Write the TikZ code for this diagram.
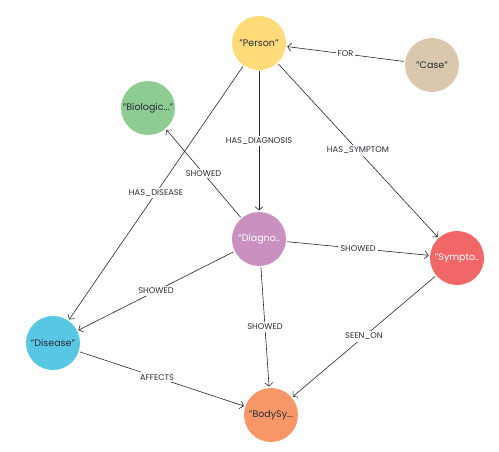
\documentclass[tikz,border=0pt]{standalone}
\usepackage{fontspec}
\setmainfont{Poppins}
\usetikzlibrary{arrows.meta, positioning}
\definecolor{personcol}{HTML}{FFDB7A}
\definecolor{casecol}{HTML}{D9C8AE}
\definecolor{biocol}{HTML}{8DCC93}
\definecolor{diagcol}{HTML}{C990C0}
\definecolor{symcol}{HTML}{F16667}
\definecolor{discol}{HTML}{57C7E3}
\definecolor{bodycol}{HTML}{F79767}
\definecolor{inkcol}{HTML}{2A2C34}

\begin{document}
\begin{tikzpicture}[x=1pt, y=-1pt,
    entity/.style={circle, minimum size=54pt, inner sep=0pt, outer sep=1.5pt, font=\fontsize{9.5}{11}\selectfont, text=inkcol},
    rel/.style={-{Straight Barb[length=3.5pt, width=8pt]}, semithick, black!85},
    lbl/.style={fill=white, inner sep=2pt, font=\fontsize{8.3}{9}\selectfont, text=inkcol}
]
\useasboundingbox (0,0) rectangle (499,452);

% Entities
\node[entity, fill=personcol] (person) at (259,43) {"Person"};
\node[entity, fill=casecol] (case) at (432,65) {"Case"};
\node[entity, fill=biocol] (bio) at (148,108) {"Biologic..."};
\node[entity, fill=diagcol, text=white] (diag) at (259,239) {"Diagno..};
\node[entity, fill=symcol, text=white] (sym) at (457,258) {"Sympto..};
\node[entity, fill=discol] (dis) at (53,343) {"Disease"};
\node[entity, fill=bodycol] (body) at (271,415) {"BodySy...};

% Relations from Person and Case
\draw[rel] (case) -- node[lbl] {FOR} (person);
\draw[rel] (person) -- node[lbl] {HAS\_DISEASE} (dis);
\draw[rel] (person) -- node[lbl] {HAS\_DIAGNOSIS} (diag);
\draw[rel] (person) -- node[lbl] {HAS\_SYMPTOM} (sym);

% Relations from Diagnosis
\draw[rel] (diag) -- node[lbl] {SHOWED} (bio);
\draw[rel] (diag) -- node[lbl] {SHOWED} (sym);
\draw[rel] (diag) -- node[lbl] {SHOWED} (dis);
\draw[rel] (diag) -- node[lbl] {SHOWED} (body);

% Relations to BodySystem
\draw[rel] (sym) -- node[lbl] {SEEN\_ON} (body);
\draw[rel] (dis) -- node[lbl, pos=0.47] {AFFECTS} (body);

\end{tikzpicture}
\end{document}
